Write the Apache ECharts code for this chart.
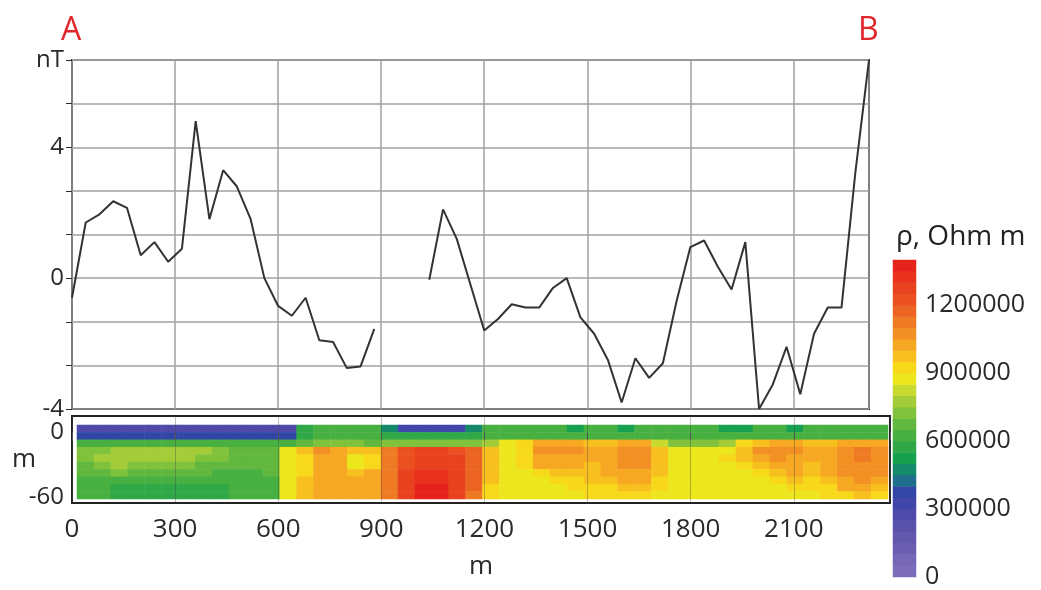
<!DOCTYPE html>
<html>
<head>
<meta charset="utf-8">
<script src="https://cdn.jsdelivr.net/npm/echarts@6/dist/echarts.min.js"></script>
<style>
  html, body { margin: 0; background: #fff; }
  #perfil { width: 1041px; height: 590px; }
</style>
</head>
<body>
<div id="perfil"></div>
<script>
// perfil magnetico (nT), una lectura cada 40 m; null = tramo sin medida
var distancias = [0, 40, 80, 120, 160, 200, 240, 280, 320, 360, 400, 440, 480, 520, 560, 600, 640, 680, 720, 760, 800, 840, 880,
    920, 960, 1000,
    1040, 1080, 1120, 1160, 1200, 1240, 1280, 1320, 1360, 1400, 1440, 1480, 1520, 1560, 1600, 1640, 1680, 1720, 1760,
    1800, 1840, 1880, 1920, 1960, 2000, 2040, 2080, 2120, 2160, 2200, 2240, 2280, 2320];
var anomaliaNT = [-0.6, 1.7, 1.95, 2.35, 2.15, 0.7, 1.1, 0.5, 0.9, 4.8, 1.8, 3.3, 2.8, 1.8, 0, -0.85, -1.15, -0.6, -1.9, -1.95, -2.75, -2.7, -1.55,
    null, null, null,
    -0.05, 2.1, 1.2, -0.2, -1.6, -1.25, -0.8, -0.9, -0.9, -0.3, 0, -1.2, -1.7, -2.5, -3.8, -2.45, -3.05, -2.6, -0.7,
    0.95, 1.15, 0.35, -0.35, 1.1, -4.0, -3.25, -2.1, -3.55, -1.7, -0.9, -0.9, 3.2, 6.67];

// seccion de resistividad: filas de arriba abajo, en unidades de 10 000 Ohm m (48 columnas)
var cotasFilas = [3, -4, -11, -17, -24, -31, -38, -45, -52, -58];
var resistividad = [
    [27,27,27,27,27,27,27,27,27,27,27,27,27,55,62,62,62,62,45,33,33,33,33,45,62,62,62,62,62,52,62,62,52,62,62,62,62,62,52,52,62,62,52,62,62,62,62,62],
    [37,37,37,37,37,37,37,37,37,37,37,37,37,58,62,62,62,62,58,58,58,58,58,58,62,62,62,62,62,62,62,62,62,62,62,62,62,62,62,62,62,62,62,62,62,62,62,62],
    [64,64,64,64,64,64,64,64,64,64,64,64,64,68,72,72,72,68,72,72,72,72,72,72,75,85,90,100,100,100,95,95,100,100,80,70,70,70,75,90,98,100,100,98,98,100,100,100],
    [70,74,76,76,76,76,76,75,72,68,66,66,87,97,105,102,95,97,112,122,125,125,122,118,95,88,90,106,108,106,100,100,107,107,97,88,87,87,88,95,105,108,107,100,100,108,110,108],
    [70,76,77,77,76,76,75,74,72,68,66,66,87,92,103,100,88,92,112,124,127,127,125,117,97,88,92,103,104,103,100,100,108,108,97,87,87,87,90,97,102,105,103,100,102,108,110,108],
    [68,72,76,74,72,72,70,68,66,65,65,66,87,90,102,101,88,90,110,124,128,128,126,117,97,88,90,100,101,100,98,100,106,105,96,87,87,87,88,92,97,100,100,98,100,107,109,107],
    [66,68,70,68,66,65,65,65,64,64,64,65,87,93,102,102,96,100,112,126,133,133,128,117,97,87,88,92,95,97,97,100,103,102,95,87,87,87,87,88,92,97,100,98,100,106,108,106],
    [64,64,64,64,63,62,62,63,64,64,64,64,87,95,102,102,101,103,113,127,134,134,128,116,95,87,87,88,90,93,97,98,100,100,92,87,87,87,87,87,88,92,95,93,97,104,107,102],
    [62,60,58,57,56,56,56,57,58,60,62,63,87,96,102,102,102,104,114,128,135,135,128,115,93,87,87,87,88,90,92,93,96,97,90,87,87,87,87,87,87,88,90,90,93,100,102,98],
    [62,60,57,56,55,55,55,56,58,60,62,63,86,96,102,102,102,104,114,128,135,135,128,112,90,87,87,87,87,88,90,90,92,92,88,87,87,87,87,87,87,87,88,88,90,93,95,92]
];

// escala de colores: una banda cada 50 000 Ohm m, de 0 a 1 400 000
var pasoBanda = 50000;
var coloresBanda = ['#7c6dbb', '#7566b6', '#6c5fb2', '#6358ae', '#5a51ab', '#4f4aa9', '#4047a8', '#3246a6',
    '#1f6e8c', '#148a6a', '#16a050', '#30a848', '#48b040', '#62b83e', '#80c23c', '#a4cc38', '#c8da30',
    '#ece61c', '#f8d81a', '#f8c01e', '#f6a822', '#f29024', '#ef7a24', '#ec6422', '#ea5020', '#e9421f',
    '#e8321e', '#e6221c'];

var chart = echarts.init(document.getElementById('perfil'));

var lineaNT = distancias.map(function (d, i) { return [d, anomaliaNT[i]]; });

var celdas = [];
resistividad.forEach(function (fila, f) {
    fila.forEach(function (v, c) { celdas.push([c, f, v * 10000]); });
});
var columnas = resistividad[0].map(function (v, c) { return String(c); });

var piezas = coloresBanda.map(function (col, i) {
    return { gte: i * pasoBanda, lt: (i + 1) * pasoBanda, color: col };
});
var bandas = coloresBanda.map(function (col, i) { return String(i); });
var barra = coloresBanda.map(function (col, i) { return [0, i, i * pasoBanda + pasoBanda / 2]; });

var gris = '#2a2a2a';
var fuente = 'Open Sans';

var option = {
    animation: false,
    textStyle: { fontFamily: fuente },
    grid: [
        { left: 72, top: 60, width: 797, height: 349, show: true, borderColor: '#222', borderWidth: 2 },
        { left: 72, top: 416, width: 818, height: 87, show: true, borderColor: '#222', borderWidth: 2 },
        { left: 77, top: 425, width: 811, height: 74 },
        { left: 893, top: 260, width: 23, height: 317 }
    ],
    xAxis: [
        {
            gridIndex: 0, type: 'value', min: 0, max: 2320, interval: 300,
            axisLabel: { show: false }, axisTick: { show: false }, axisLine: { show: false },
            splitLine: { lineStyle: { color: '#a0a0a0', width: 1.5 } }
        },
        {
            gridIndex: 1, type: 'value', min: 0, max: 2380, interval: 300, z: 5,
            name: 'm', nameLocation: 'middle', nameGap: 51,
            nameTextStyle: { fontSize: 26, color: gris, fontFamily: fuente },
            axisLine: { show: false },
            axisTick: { length: 8, lineStyle: { color: '#555' } },
            axisLabel: {
                fontSize: 26, color: gris, margin: 14, fontFamily: fuente,
                formatter: function (v) { return v % 300 === 0 ? String(v) : ''; }
            },
            splitLine: { show: true, lineStyle: { color: 'rgba(70,70,70,0.35)', width: 1 } }
        },
        { gridIndex: 2, type: 'category', data: columnas, show: false },
        { gridIndex: 3, type: 'category', data: ['rho'], show: false }
    ],
    yAxis: [
        {
            gridIndex: 0, type: 'value', min: -4, max: 20 / 3, interval: 4 / 3,
            axisLine: { show: false },
            axisTick: { show: true, length: 6, lineStyle: { color: gris } },
            axisLabel: {
                fontSize: 24, color: gris, margin: 8, fontFamily: fuente,
                formatter: function (v) {
                    if (Math.abs(v - 20 / 3) < 0.01) return 'nT';
                    var r = Math.round(v);
                    if (Math.abs(v - r) < 0.01 && r % 4 === 0) return String(r);
                    return '';
                }
            },
            splitLine: { lineStyle: { color: '#a0a0a0', width: 1.5 } }
        },
        {
            gridIndex: 1, type: 'value', min: -65, max: 15, interval: 5,
            name: 'm', nameLocation: 'middle', nameGap: 36, nameRotate: 0, nameMoveOverlap: false,
            nameTextStyle: { fontSize: 26, color: gris, fontFamily: fuente },
            axisLine: { show: false }, axisTick: { show: false }, splitLine: { show: false },
            axisLabel: {
                fontSize: 24, color: gris, margin: 8, fontFamily: fuente,
                formatter: function (v) { return (v === 0 || v === -60) ? String(v) : ''; }
            }
        },
        { gridIndex: 2, type: 'category', data: cotasFilas, inverse: true, show: false },
        { gridIndex: 3, type: 'category', data: bandas, show: false },
        {
            gridIndex: 3, type: 'value', position: 'right', min: 0, max: 1400000, interval: 300000,
            axisLine: { show: false }, axisTick: { show: false }, splitLine: { show: false },
            axisLabel: {
                fontSize: 25, color: gris, margin: 9, fontFamily: fuente,
                formatter: function (v) { return v % 300000 === 0 ? String(v) : ''; }
            }
        }
    ],
    visualMap: [
        { type: 'piecewise', show: false, seriesIndex: [1, 2], pieces: piezas }
    ],
    graphic: [
        { type: 'text', left: 61, top: 15, style: { text: 'A', fill: '#e0262b', font: '32px "Open Sans"' } },
        { type: 'text', left: 858, top: 15, style: { text: 'B', fill: '#e0262b', font: '32px "Open Sans"' } },
        { type: 'text', left: 896, top: 223, style: { text: 'ρ, Ohm m', fill: '#222', font: '28px "Open Sans"' } }
    ],
    series: [
        {
            type: 'line', xAxisIndex: 0, yAxisIndex: 0, data: lineaNT,
            symbol: 'none', connectNulls: false,
            lineStyle: { color: '#333', width: 2 }
        },
        { type: 'heatmap', xAxisIndex: 2, yAxisIndex: 2, data: celdas },
        { type: 'heatmap', xAxisIndex: 3, yAxisIndex: 3, data: barra }
    ]
};

chart.setOption(option);
</script>
</body>
</html>
